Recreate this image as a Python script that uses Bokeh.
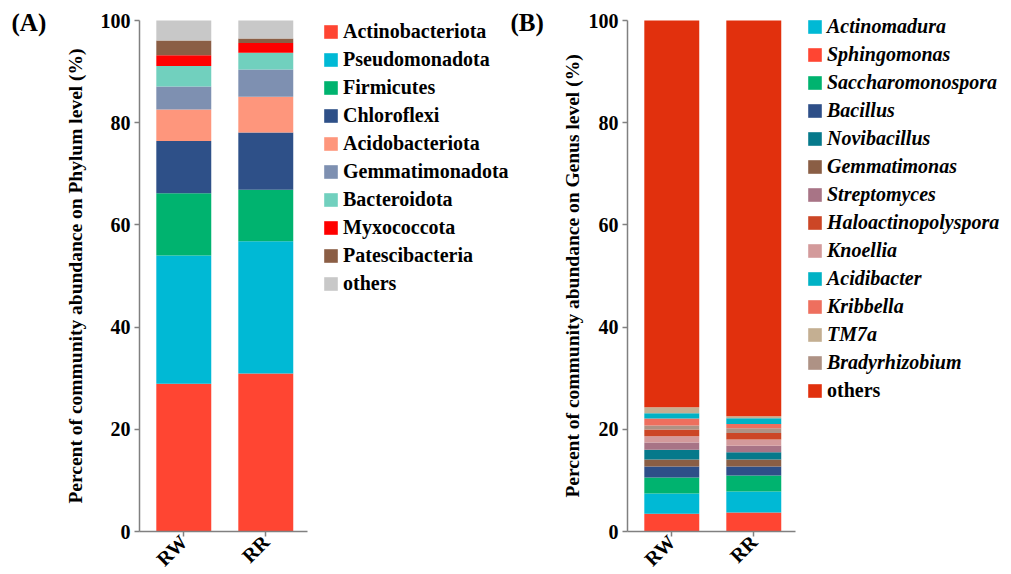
import math
from bokeh.plotting import figure
from bokeh.layouts import row
from bokeh.models import ColumnDataSource, Legend, LegendItem, FixedTicker, Label, Range1d
from bokeh.embed import file_html
from bokeh.resources import INLINE

# ---------------- data ----------------
samples = ["RW", "RR"]
sample_x = [1, 2]
y_ticks = [0, 20, 40, 60, 80, 100]

phyla = ["Actinobacteriota", "Pseudomonadota", "Firmicutes", "Chloroflexi",
         "Acidobacteriota", "Gemmatimonadota", "Bacteroidota", "Myxococcota",
         "Patescibacteria", "others"]
phylum_rw = [28.9, 25.1, 12.2, 10.2, 6.2, 4.5, 4.0, 2.1, 2.9, 3.9]
phylum_rr = [30.9, 25.9, 10.1, 11.2, 7.0, 5.3, 3.3, 1.9, 0.9, 3.5]
phylum_colors = ["#FF4532", "#00B9D5", "#00B36F", "#2E5088", "#FE967C",
                 "#7E90B1", "#71D0BE", "#FF0000", "#8B5E45", "#C8C8C8"]

genera = ["Actinomadura", "Sphingomonas", "Saccharomonospora", "Bacillus",
          "Novibacillus", "Gemmatimonas", "Streptomyces", "Haloactinopolyspora",
          "Knoellia", "Acidibacter", "Kribbella", "TM7a", "Bradyrhizobium", "others"]
genus_rw = [3.97, 3.46, 3.13, 2.15, 1.90, 1.37, 1.43, 1.30, 1.24, 1.04, 1.37, 1.17, 0.78, 75.69]
genus_rr = [4.11, 3.72, 3.13, 1.76, 1.43, 1.37, 1.24, 1.30, 1.24, 1.11, 0.85, 0.39, 0.91, 77.44]
genus_colors = ["#00B9D5", "#FF4532", "#00B36F", "#2E4F88", "#06798B", "#8A5E45",
                "#A87486", "#CC4626", "#D39A9B", "#00B2C5", "#EE6F5E", "#C4AF92",
                "#AE9285", "#E1300D"]
genus_stack_order = ["Sphingomonas", "Actinomadura", "Saccharomonospora", "Bacillus",
                     "Gemmatimonas", "Novibacillus", "Streptomyces", "Knoellia",
                     "Haloactinopolyspora", "Bradyrhizobium", "Kribbella", "Acidibacter",
                     "TM7a", "others"]

FONT = "Liberation Serif"
AXIS_COLOR = "#808080"
X_START, X_END = 0.46, 2.51      # extent of the drawn x axis
H = 574
PX_X = 82.0                      # pixels per sample unit
PX_Y = 5.11                      # pixels per percent
TOP = 20                         # canvas y of 100 %
WA, WB = 510, 501                # widths of the two panels


def make_fig(width, axis_px, title, standoff):
    x0 = X_START - axis_px / PX_X
    x1 = X_START + (width - axis_px) / PX_X
    y1 = 100 + TOP / PX_Y
    y0 = y1 - H / PX_Y
    p = figure(width=width, height=H, x_range=Range1d(x0, x1), y_range=Range1d(y0, y1),
               output_backend="svg", toolbar_location=None,
               min_border_left=0, min_border_right=0, min_border_top=0, min_border_bottom=0)
    p.outline_line_color = None
    p.xgrid.visible = False
    p.ygrid.visible = False
    p.background_fill_color = None
    p.border_fill_color = "white"

    ya = p.yaxis[0]
    ya.fixed_location = X_START
    ya.bounds = (0, 100)
    ya.ticker = FixedTicker(ticks=y_ticks)
    ya.axis_label = title
    ya.axis_label_text_font = FONT
    ya.axis_label_text_font_style = "bold"
    ya.axis_label_text_font_size = "19.5px"
    ya.axis_label_text_color = "black"
    ya.axis_label_standoff = standoff
    ya.major_label_text_font = FONT
    ya.major_label_text_font_style = "bold"
    ya.major_label_text_font_size = "20px"
    ya.major_label_text_color = "black"
    ya.major_label_standoff = 4
    ya.axis_line_color = AXIS_COLOR
    ya.axis_line_width = 1.5
    ya.major_tick_line_color = AXIS_COLOR
    ya.major_tick_line_width = 1.5
    ya.major_tick_out = 5
    ya.major_tick_in = 0
    ya.minor_tick_line_color = None

    xa = p.xaxis[0]
    xa.fixed_location = 0
    xa.bounds = (X_START, X_END)
    xa.ticker = FixedTicker(ticks=sample_x)
    xa.major_label_overrides = {x: s for x, s in zip(sample_x, samples)}
    xa.major_label_orientation = math.pi / 4
    xa.major_label_text_font = FONT
    xa.major_label_text_font_style = "bold"
    xa.major_label_text_font_size = "20px"
    xa.major_label_text_color = "black"
    xa.major_label_standoff = 2
    xa.axis_line_color = AXIS_COLOR
    xa.axis_line_width = 1.5
    xa.major_tick_line_color = AXIS_COLOR
    xa.major_tick_line_width = 1.5
    xa.major_tick_out = 5
    xa.major_tick_in = 0
    xa.minor_tick_line_color = None
    return p


def legend_style(lg, italic):
    lg.label_text_font = FONT
    lg.label_text_font_style = "bold italic" if italic else "bold"
    lg.label_text_font_size = "20px"
    lg.label_text_color = "black"
    lg.glyph_width = 17
    lg.glyph_height = 17
    lg.label_height = 17
    lg.label_standoff = 4
    lg.spacing = 5
    lg.padding = 0
    lg.margin = 0
    lg.border_line_color = None
    lg.background_fill_alpha = 0
    lg.click_policy = "none"


def panel_label(text, x_px):
    return Label(x=x_px, y=H - 22, x_units="screen", y_units="screen", text=text,
                 text_font=FONT, text_font_style="bold", text_font_size="25px",
                 text_baseline="middle", text_color="black")


# ---------------- panel A ----------------
pA = make_fig(WA, 139, "Percent of community abundance on Phylum level (%)", 12)
srcA = {"x": sample_x}
for name, a, b in zip(phyla, phylum_rw, phylum_rr):
    srcA[name] = [a, b]
srcA = ColumnDataSource(srcA)
rA = pA.vbar_stack(phyla, x="x", width=0.67, color=phylum_colors, line_color=None, source=srcA)
legA = Legend(items=[LegendItem(label=n, renderers=[r]) for n, r in zip(phyla, rA)],
              location=(322, H - 295))
legend_style(legA, False)
pA.add_layout(legA, "center")
pA.add_layout(panel_label("(A)", 11))

# ---------------- panel B ----------------
pB = make_fig(WB, 627 - WA, "Percent of community abundance on Genus level (%)", 3)
srcB = {"x": sample_x}
for name, a, b in zip(genera, genus_rw, genus_rr):
    srcB[name] = [a, b]
srcB = ColumnDataSource(srcB)
col_of = dict(zip(genera, genus_colors))
rB = pB.vbar_stack(genus_stack_order, x="x", width=0.67,
                   color=[col_of[g] for g in genus_stack_order], line_color=None, source=srcB)
rend_of = dict(zip(genus_stack_order, rB))
legB = Legend(items=[LegendItem(label=g, renderers=[rend_of[g]]) for g in genera if g != "others"],
              location=(806 - WA, H - 374))
legend_style(legB, True)
pB.add_layout(legB, "center")
legB2 = Legend(items=[LegendItem(label="others", renderers=[rend_of["others"]])],
               location=(806 - WA, H - 402))
legend_style(legB2, False)
pB.add_layout(legB2, "center")
pB.add_layout(panel_label("(B)", 510 - WA))

layout = row(pA, pB)
open("out.html", "w").write(file_html(layout, INLINE))
